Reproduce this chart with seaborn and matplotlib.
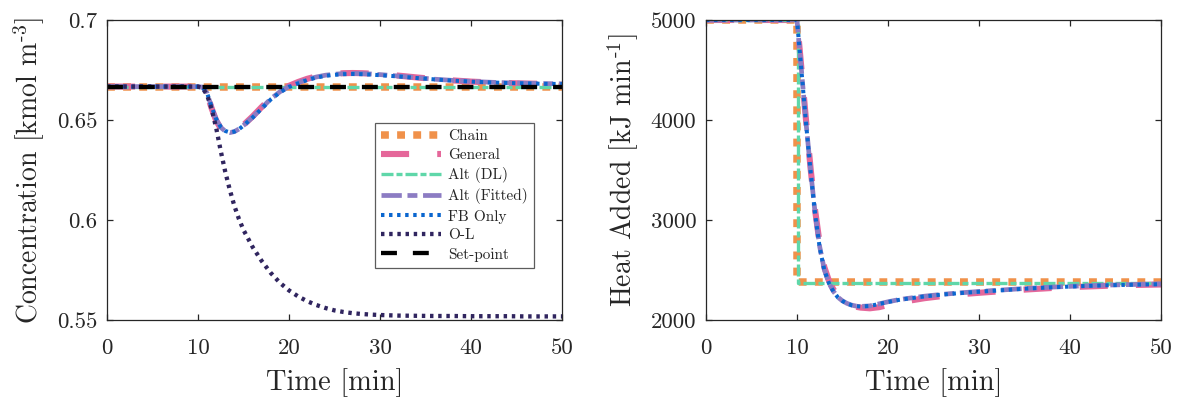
import matplotlib
matplotlib.use("Agg")
import matplotlib.pyplot as plt
import seaborn as sns
import pandas as pd

# ---------------- data ----------------
# concentration response [kmol m^-3]
t_conc = [0, 10, 10.5, 11, 11.5, 12, 12.5, 13, 13.5, 14, 14.5, 15, 16, 17, 18, 19,
          20, 21, 22, 23, 24, 25, 26, 27, 28, 29, 30, 32, 34, 36, 38, 40, 42, 44,
          46, 48, 50]
conc_general = [0.6667, 0.6667, 0.6663, 0.6630, 0.6558, 0.6497, 0.6458, 0.6440,
                0.6435, 0.6441, 0.6455, 0.6475, 0.6518, 0.6565, 0.6610, 0.6645,
                0.6671, 0.6690, 0.6706, 0.6718, 0.6726, 0.6731, 0.6734, 0.6735,
                0.6734, 0.6732, 0.6729, 0.6722, 0.6713, 0.6705, 0.6698, 0.6692,
                0.6688, 0.6685, 0.6682, 0.6681, 0.6680]
conc_fitted = [0.6667, 0.6667, 0.6664, 0.6634, 0.6563, 0.6503, 0.6463, 0.6444,
               0.6437, 0.6442, 0.6455, 0.6473, 0.6514, 0.6560, 0.6606, 0.6641,
               0.6668, 0.6686, 0.6703, 0.6715, 0.6724, 0.6729, 0.6732, 0.6733,
               0.6732, 0.6730, 0.6727, 0.6720, 0.6712, 0.6704, 0.6698, 0.6693,
               0.6689, 0.6686, 0.6684, 0.6682, 0.6681]
conc_fb = [0.6667, 0.6667, 0.6664, 0.6635, 0.6565, 0.6505, 0.6465, 0.6445,
           0.6438, 0.6442, 0.6454, 0.6472, 0.6512, 0.6557, 0.6603, 0.6638,
           0.6665, 0.6683, 0.6700, 0.6712, 0.6721, 0.6726, 0.6729, 0.6730,
           0.6729, 0.6727, 0.6724, 0.6718, 0.6710, 0.6703, 0.6697, 0.6692,
           0.6688, 0.6685, 0.6683, 0.6681, 0.6680]
conc_ol = [0.6667, 0.6667, 0.6660, 0.6625, 0.6555, 0.6460, 0.6345, 0.6240,
           0.6150, 0.6070, 0.6005, 0.5950, 0.5865, 0.5795, 0.5735, 0.5686,
           0.5648, 0.5618, 0.5594, 0.5575, 0.5560, 0.5548, 0.5540, 0.5534,
           0.5530, 0.5527, 0.5525, 0.5522, 0.5521, 0.5520, 0.5520, 0.5519,
           0.5519, 0.5519, 0.5518, 0.5518, 0.5518]
t_flat = [0, 50]
conc_chain = [0.6667, 0.6667]
conc_altdl = [0.6667, 0.6667]
conc_setpoint = [0.6667, 0.6667]

# heat added [kJ min^-1]
t_heat = [0, 10, 10.5, 11, 11.5, 12, 12.5, 13, 13.5, 14, 14.5, 15, 15.5, 16, 16.5,
          17, 18, 19, 20, 21, 22, 24, 26, 28, 30, 32, 35, 38, 41, 44, 47, 50]
heat_general = [5000, 5000, 4500, 3990, 3510, 3090, 2760, 2530, 2395, 2305, 2240,
                2197, 2167, 2146, 2132, 2124, 2117, 2128, 2150, 2170, 2188, 2218,
                2240, 2258, 2272, 2285, 2304, 2320, 2332, 2342, 2350, 2355]
heat_fitted = [5000, 5000, 4485, 3965, 3490, 3060, 2730, 2505, 2372, 2287, 2227,
               2191, 2166, 2149, 2139, 2136, 2141, 2161, 2182, 2200, 2214, 2238,
               2257, 2272, 2285, 2297, 2315, 2329, 2340, 2349, 2355, 2360]
heat_fb = [5000, 5000, 4480, 3960, 3480, 3050, 2720, 2500, 2370, 2285, 2225,
           2190, 2165, 2148, 2138, 2135, 2140, 2160, 2180, 2198, 2212, 2236,
           2255, 2270, 2283, 2295, 2313, 2327, 2338, 2347, 2353, 2358]
t_chain_step = [0, 10, 10, 50]
heat_chain = [5000, 5000, 2378, 2378]
t_altdl_step = [0, 10.1, 10.1, 50]
heat_altdl = [5000, 5000, 2372, 2372]

x_ticks = [0, 10, 20, 30, 40, 50]
conc_ticks = [0.55, 0.6, 0.65, 0.7]
conc_ticklabels = ["0.55", "0.6", "0.65", "0.7"]
heat_ticks = [2000, 3000, 4000, 5000]
heat_ticklabels = ["2000", "3000", "4000", "5000"]

# ---------------- styles ----------------
styles = {
    "Chain":        dict(color="#F0914A", lw=5.4, ls=(0, (1.05, 1.1))),
    "General":      dict(color="#E5679A", lw=4.4, ls=(0, (4.6, 4.6))),
    "Alt (DL)":     dict(color="#5FD7A9", lw=2.4, ls=(0, (3.6, 0.9, 1.8, 0.9))),
    "Alt (Fitted)": dict(color="#8C7CC3", lw=3.4, ls=(0, (4.3, 1.2, 2.1, 1.2))),
    "FB Only":      dict(color="#0A66CF", lw=2.9, ls=(0, (0.85, 1.15))),
    "O-L":          dict(color="#30255F", lw=3.1, ls=(0, (0.8, 1.1))),
    "Set-point":    dict(color="#000000", lw=3.1, ls=(0, (3.7, 3.7))),
}

sns.set_theme(style="white")
plt.rcParams["font.family"] = ["cmr10", "DejaVu Serif"]
plt.rcParams["mathtext.fontset"] = "cm"
plt.rcParams["axes.formatter.use_mathtext"] = True
plt.rcParams["axes.unicode_minus"] = False

fig = plt.figure(figsize=(11.8, 3.98), dpi=100)
ax1 = fig.add_axes([107 / 1180, 78 / 398, 455 / 1180, 300 / 398])
ax2 = fig.add_axes([706 / 1180, 78 / 398, 455 / 1180, 300 / 398])


def draw(ax, x, y, name):
    st = styles[name]
    df = pd.DataFrame({"t": x, "v": y})
    sns.lineplot(data=df, x="t", y="v", ax=ax, estimator=None, sort=False,
                 color=st["color"], linewidth=st["lw"], linestyle=st["ls"],
                 label=name, legend=False)
    ax.lines[-1].set_dash_capstyle("butt")


draw(ax1, t_flat, conc_chain, "Chain")
draw(ax1, t_conc, conc_general, "General")
draw(ax1, t_flat, conc_altdl, "Alt (DL)")
draw(ax1, t_conc, conc_fitted, "Alt (Fitted)")
draw(ax1, t_conc, conc_fb, "FB Only")
draw(ax1, t_conc, conc_ol, "O-L")
draw(ax1, t_flat, conc_setpoint, "Set-point")

draw(ax2, t_chain_step, heat_chain, "Chain")
draw(ax2, t_heat, heat_general, "General")
draw(ax2, t_altdl_step, heat_altdl, "Alt (DL)")
draw(ax2, t_heat, heat_fitted, "Alt (Fitted)")
draw(ax2, t_heat, heat_fb, "FB Only")

for ax in (ax1, ax2):
    ax.set_xlim(0, 50)
    ax.set_xticks(x_ticks)
    ax.set_xticklabels([str(v) for v in x_ticks])
    ax.set_xlabel("Time [min]", fontsize=20.5, labelpad=8)
    ax.tick_params(direction="in", length=4, width=0.9, colors="#262626",
                   labelsize=16.5, pad=7, top=True, right=True,
                   bottom=True, left=True)
    ax.tick_params(axis="x", pad=13)
    for sp in ax.spines.values():
        sp.set_color("#262626")
        sp.set_linewidth(0.9)

ax1.set_ylim(0.55, 0.7)
ax1.set_yticks(conc_ticks)
ax1.set_yticklabels(conc_ticklabels)
ax1.set_ylabel(r"Concentration [kmol m$^{\text{-3}}$]", fontsize=20, labelpad=7)

ax2.set_ylim(2000, 5000)
ax2.set_yticks(heat_ticks)
ax2.set_yticklabels(heat_ticklabels)
ax2.set_ylabel(r"Heat Added [kJ min$^{\text{-1}}$]", fontsize=20, labelpad=7)

handles, labels = ax1.get_legend_handles_labels()
leg = ax1.legend(handles, labels, loc="upper left", bbox_to_anchor=(0.589, 0.657),
                 borderaxespad=0, frameon=True, fancybox=False, fontsize=11,
                 handlelength=3.9, handletextpad=0.45, labelspacing=0.34,
                 borderpad=0.42)
leg.get_frame().set_edgecolor("#333333")
leg.get_frame().set_linewidth(0.9)

fig.savefig("out.png", dpi=100, facecolor="white")
